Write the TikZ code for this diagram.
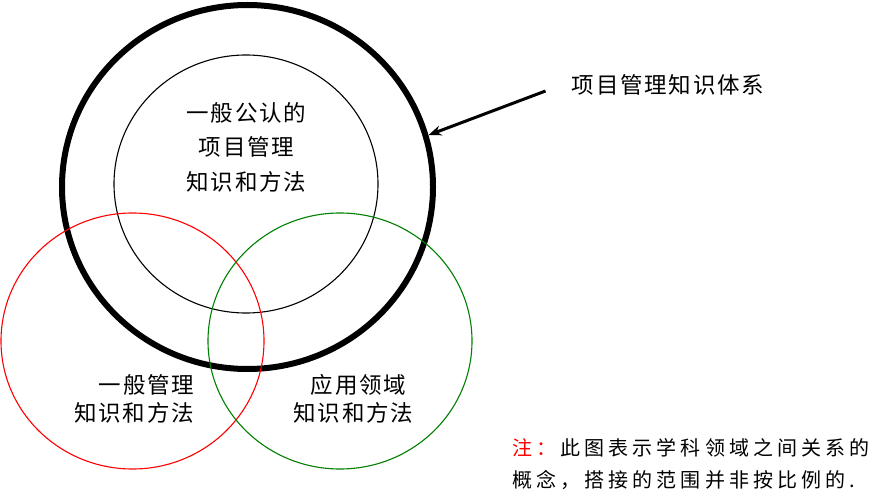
\documentclass[tikz,border=0pt]{standalone}
\usepackage{fontspec}
\setmainfont{Noto Sans CJK SC}
\usetikzlibrary{arrows.meta,shapes.geometric}
\newdimen\lsp
\def\spc#1{\spcfirst#1\relax}
\def\spcfirst#1{#1\spcaux}
\def\spcaux#1{\ifx#1\relax\else\kern\lsp#1\expandafter\spcaux\fi}
\def\bigfont{\fontsize{22.5}{26}\selectfont\lsp=1.8pt\relax}
\def\notefont{\fontsize{20}{24}\selectfont\lsp=4.1pt\relax}
\definecolor{myred}{RGB}{255,0,0}
\definecolor{mygreen}{RGB}{0,128,0}
\tikzset{
  ring/.style={ellipse, draw, inner sep=0pt, line width=1.1pt},
  bigtxt/.style={inner sep=0pt, font=\bigfont},
  notetxt/.style={inner sep=0pt, anchor=west, font=\notefont},
  pointer/.style={line width=3pt, -{Stealth[length=13pt,width=10pt]}}
}
\begin{document}
\begin{tikzpicture}[x=1pt,y=-1pt]
\fill[white] (0,0) rectangle (888,497);
\useasboundingbox (0,0) rectangle (888,497);
\node[ring, line width=6pt, minimum width=371pt, minimum height=364pt] (pmbok) at (247.5,187) {};
\node[ring, minimum width=264pt, minimum height=258pt] (core) at (246,184) {};
\node[ring, draw=myred, minimum width=263pt, minimum height=256pt] (gen) at (132.5,341) {};
\node[ring, draw=mygreen, minimum width=264pt, minimum height=256pt] (app) at (340,341) {};
\node[bigtxt] (c1) at (246.5,113) {\spc{一般公认的}};
\node[bigtxt] (c2) at (246.5,147) {\spc{项目管理}};
\node[bigtxt] (c3) at (246.5,182) {\spc{知识和方法}};
\node[bigtxt] (g1) at (146.5,385) {\spc{一般管理}};
\node[bigtxt] (g2) at (134,413) {\spc{知识和方法}};
\node[bigtxt] (a1) at (358.5,385) {\spc{应用领域}};
\node[bigtxt] (a2) at (353.5,413) {\spc{知识和方法}};
\node[bigtxt] (label) at (668,85) {\spc{项目管理知识体系}};
\node[notetxt] (n1) at (512,448) {{\color{myred}\spc{注：}}\kern\lsp\spc{此图表示学科领域之间关系的}};
\node[notetxt] (n2) at (512,480) {\spc{概念，搭接的范围并非按比例的.}};
\draw[pointer] ([xshift=-26pt,yshift=-6pt]label.west) -- (pmbok.16.8);
\end{tikzpicture}
\end{document}
